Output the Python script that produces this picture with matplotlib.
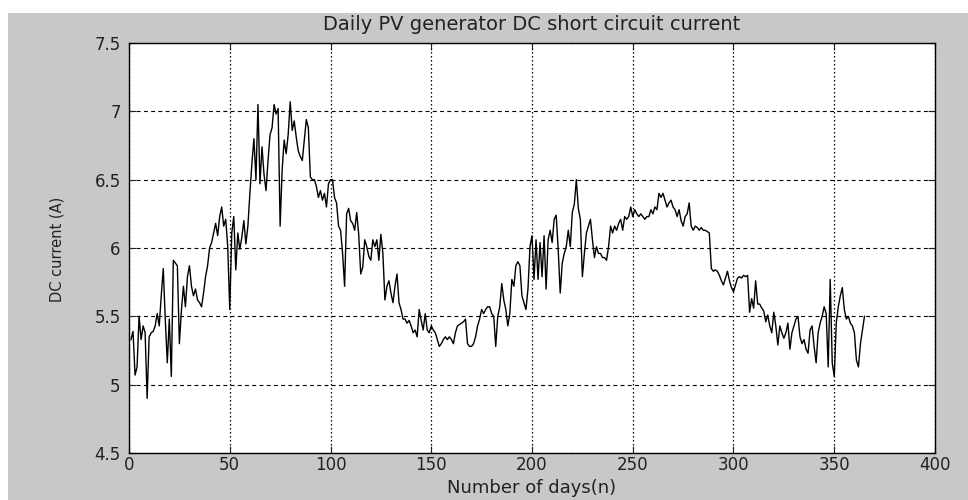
import numpy as np
import matplotlib
matplotlib.use("Agg")
import matplotlib.pyplot as plt
from matplotlib.patches import Rectangle
from matplotlib.ticker import FuncFormatter

# the original is a stretched matlab export, a wide face is the closest match
plt.rcParams["font.family"] = ["DejaVu Sans"]

# daily DC short circuit current (A), day 1..365
current = [
    5.33, 5.39, 5.07, 5.13, 5.50, 5.33, 5.43, 5.38, 4.90, 5.35,
    5.38, 5.39, 5.43, 5.52, 5.43, 5.65, 5.85, 5.48, 5.16, 5.48,
    5.06, 5.91, 5.89, 5.87, 5.30, 5.54, 5.72, 5.57, 5.79, 5.87,
    5.72, 5.65, 5.70, 5.62, 5.60, 5.57, 5.67, 5.79, 5.87, 6.00,
    6.04, 6.11, 6.18, 6.09, 6.23, 6.30, 6.16, 6.21, 6.01, 5.55,
    6.11, 6.23, 5.84, 6.11, 5.99, 6.08, 6.20, 6.03, 6.16, 6.40,
    6.62, 6.80, 6.50, 7.05, 6.47, 6.74, 6.54, 6.42, 6.64, 6.83,
    6.88, 7.05, 6.98, 7.02, 6.16, 6.57, 6.79, 6.69, 6.83, 7.07,
    6.86, 6.93, 6.81, 6.71, 6.67, 6.64, 6.79, 6.94, 6.88, 6.52,
    6.50, 6.50, 6.45, 6.37, 6.42, 6.35, 6.40, 6.30, 6.47, 6.50,
    6.50, 6.37, 6.33, 6.16, 6.13, 5.96, 5.72, 6.25, 6.29, 6.20,
    6.18, 6.13, 6.26, 6.10, 5.81, 5.86, 6.06, 6.01, 5.94, 5.91,
    6.06, 6.01, 6.06, 5.91, 6.10, 5.96, 5.62, 5.72, 5.76, 5.67,
    5.60, 5.72, 5.81, 5.60, 5.55, 5.48, 5.48, 5.45, 5.47, 5.43,
    5.38, 5.40, 5.35, 5.55, 5.47, 5.40, 5.52, 5.40, 5.38, 5.43,
    5.40, 5.38, 5.33, 5.28, 5.30, 5.33, 5.35, 5.33, 5.35, 5.33,
    5.30, 5.38, 5.43, 5.44, 5.45, 5.46, 5.48, 5.30, 5.28, 5.28,
    5.30, 5.35, 5.43, 5.48, 5.55, 5.52, 5.55, 5.57, 5.57, 5.52,
    5.50, 5.28, 5.50, 5.57, 5.74, 5.62, 5.55, 5.43, 5.52, 5.77,
    5.72, 5.87, 5.90, 5.87, 5.65, 5.60, 5.55, 5.70, 6.01, 6.09,
    5.77, 6.06, 5.77, 6.04, 5.79, 6.09, 5.70, 6.06, 6.13, 6.04,
    6.21, 6.24, 5.99, 5.67, 5.89, 5.96, 6.01, 6.13, 6.01, 6.26,
    6.32, 6.50, 6.29, 6.21, 5.79, 5.96, 6.11, 6.16, 6.21, 6.06,
    5.93, 6.01, 5.96, 5.96, 5.93, 5.93, 5.91, 6.01, 6.16, 6.11,
    6.16, 6.13, 6.18, 6.21, 6.13, 6.23, 6.21, 6.23, 6.30, 6.23,
    6.28, 6.25, 6.23, 6.25, 6.23, 6.21, 6.23, 6.23, 6.28, 6.25,
    6.30, 6.28, 6.40, 6.37, 6.40, 6.35, 6.30, 6.33, 6.35, 6.30,
    6.28, 6.23, 6.28, 6.20, 6.16, 6.23, 6.25, 6.33, 6.16, 6.13,
    6.16, 6.15, 6.13, 6.15, 6.13, 6.13, 6.12, 6.11, 5.85, 5.83,
    5.84, 5.83, 5.80, 5.76, 5.73, 5.78, 5.83, 5.76, 5.71, 5.68,
    5.73, 5.78, 5.79, 5.78, 5.80, 5.79, 5.80, 5.53, 5.63, 5.56,
    5.76, 5.59, 5.59, 5.56, 5.54, 5.46, 5.51, 5.43, 5.38, 5.53,
    5.43, 5.29, 5.43, 5.38, 5.34, 5.38, 5.45, 5.26, 5.38, 5.43,
    5.48, 5.50, 5.35, 5.30, 5.33, 5.26, 5.23, 5.40, 5.43, 5.28,
    5.16, 5.38, 5.45, 5.50, 5.57, 5.52, 5.13, 5.77, 5.16, 5.06,
    5.45, 5.57, 5.65, 5.71, 5.55, 5.48, 5.50, 5.45, 5.43, 5.38,
    5.18, 5.13, 5.30, 5.40, 5.50,
]
days = np.arange(1, len(current) + 1)

x_ticks = [0, 50, 100, 150, 200, 250, 300, 350, 400]
y_ticks = [4.5, 5, 5.5, 6, 6.5, 7, 7.5]

W, H = 968, 500
fig = plt.figure(figsize=(W / 100, H / 100), dpi=100, facecolor="white")
# matlab style grey figure area, thin white strip top/left
fig.patches.append(Rectangle((8 / W, 0), 1, 1 - 13 / H, transform=fig.transFigure,
                             facecolor="#c8c8c8", edgecolor="none", zorder=-10))

ax = fig.add_axes([129 / W, 47 / H, 806 / W, 410 / H])
ax.set_facecolor("white")
ax.plot(days, current, color="black", lw=1.0)

ax.set_xlim(0, 400)
ax.set_ylim(4.5, 7.5)
ax.set_xticks(x_ticks)
ax.set_yticks(y_ticks)
ax.xaxis.set_major_formatter(FuncFormatter(lambda v, p: f"{v:g}"))
ax.yaxis.set_major_formatter(FuncFormatter(lambda v, p: f"{v:g}"))
ax.tick_params(direction="in", top=True, right=True, length=5, width=0.8,
               labelsize=12, colors="#222222")
ax.tick_params(axis="x", pad=2)
ax.tick_params(axis="y", pad=6)

ax.xaxis.grid(True, linestyle=(0, (1.2, 2.0)), color="black", lw=0.9)
ax.yaxis.grid(True, linestyle=(0, (3.5, 3.0)), color="black", lw=0.8)
for s in ax.spines.values():
    s.set_linewidth(1.0)

fig.text(532 / W, 1 - 25 / H, "Daily PV generator DC short circuit current",
         ha="center", va="center", fontsize=14, color="#222222")
fig.text(532 / W, 1 - 488 / H, "Number of days(n)", ha="center", va="center",
         fontsize=13, color="#222222")
fig.text(57 / W, 1 - 249 / H, "DC current (A)", ha="center", va="center",
         rotation=90, fontsize=10.5, color="#222222")

fig.savefig("out.png", dpi=100, facecolor=fig.get_facecolor())
